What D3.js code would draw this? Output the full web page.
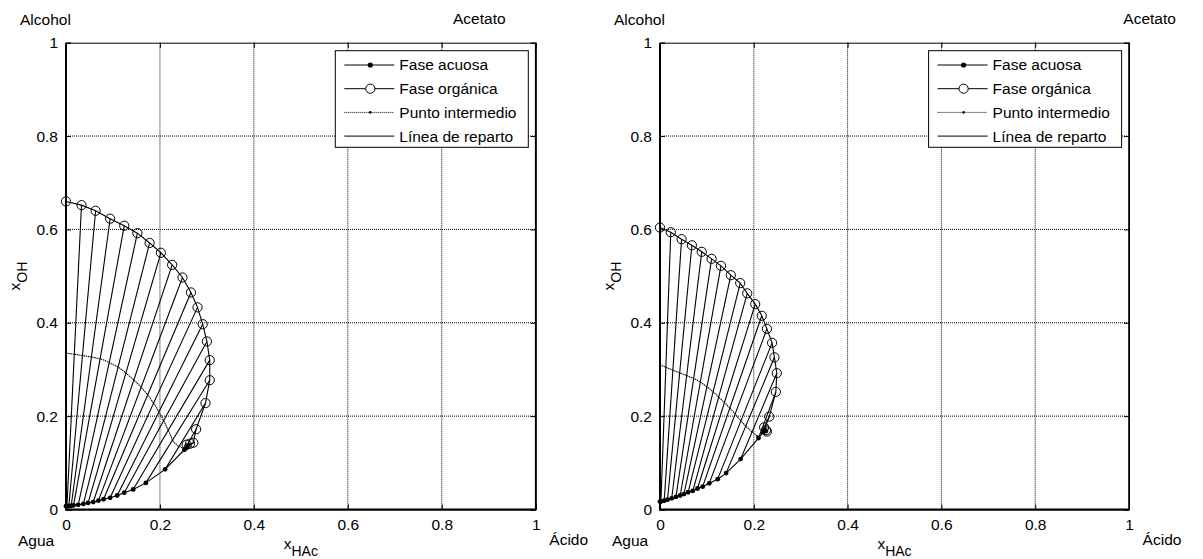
<!DOCTYPE html>
<html>
<head>
<meta charset="utf-8">
<script src="https://cdnjs.cloudflare.com/ajax/libs/d3/7.8.5/d3.min.js"></script>
<style>
  body { margin: 0; background: #fff; }
  svg text { font-family: "Liberation Sans", Arial, sans-serif; font-size: 15.5px; fill: #000; }
  .grid { stroke: #000; stroke-width: 1; stroke-dasharray: 1,1; }
</style>
</head>
<body>
<div id="chart"></div>
<script>
"use strict";
//values, [xHAc, xOH]
var aquosaA = [
  [0.000, 0.007], [0.002, 0.007], [0.006, 0.0075], [0.011, 0.008], [0.016, 0.009],
  [0.026, 0.010], [0.037, 0.012], [0.047, 0.014], [0.058, 0.016], [0.069, 0.019],
  [0.080, 0.022], [0.094, 0.025], [0.109, 0.030], [0.124, 0.036], [0.143, 0.043],
  [0.170, 0.057], [0.211, 0.086], [0.252, 0.128], [0.255, 0.131], [0.258, 0.134],
  [0.257, 0.137]
];
var organicaA = [
  [0.000, 0.660], [0.033, 0.652], [0.063, 0.640], [0.094, 0.623], [0.124, 0.608],
  [0.152, 0.592], [0.178, 0.571], [0.202, 0.550], [0.226, 0.524], [0.248, 0.497],
  [0.266, 0.465], [0.280, 0.433], [0.291, 0.397], [0.300, 0.360], [0.306, 0.320],
  [0.306, 0.277], [0.297, 0.228], [0.277, 0.172], [0.271, 0.143], [0.264, 0.141],
  [0.257, 0.139]
];
var intermedioA = [
  [0.000, 0.335], [0.058, 0.326], [0.101, 0.310], [0.136, 0.285], [0.165, 0.256],
  [0.189, 0.224], [0.207, 0.192], [0.221, 0.163], [0.232, 0.142], [0.246, 0.133],
  [0.255, 0.131]
];

var aquosaB = [
  [0.000, 0.017], [0.002, 0.017], [0.009, 0.019], [0.016, 0.021], [0.025, 0.024],
  [0.034, 0.027], [0.043, 0.030], [0.051, 0.033], [0.060, 0.037], [0.070, 0.040],
  [0.080, 0.045], [0.091, 0.049], [0.105, 0.056], [0.123, 0.065], [0.141, 0.078],
  [0.172, 0.108], [0.210, 0.153], [0.220, 0.166], [0.222, 0.170], [0.224, 0.170],
  [0.226, 0.168]
];
var organicaB = [
  [0.000, 0.604], [0.023, 0.594], [0.046, 0.579], [0.068, 0.566], [0.089, 0.552],
  [0.110, 0.537], [0.130, 0.522], [0.151, 0.502], [0.171, 0.485], [0.186, 0.463],
  [0.203, 0.440], [0.217, 0.415], [0.228, 0.387], [0.239, 0.357], [0.244, 0.326],
  [0.249, 0.292], [0.247, 0.252], [0.233, 0.199], [0.222, 0.176], [0.226, 0.170],
  [0.228, 0.167]
];
var intermedioB = [
  [0.000, 0.310], [0.036, 0.295], [0.071, 0.281], [0.100, 0.263], [0.128, 0.238],
  [0.153, 0.213], [0.174, 0.188], [0.192, 0.170], [0.206, 0.156], [0.215, 0.160],
  [0.222, 0.168]
];

var tickValues = [0, 0.2, 0.4, 0.6, 0.8, 1];
var legendLabels = ["Fase acuosa", "Fase orgánica", "Punto intermedio", "Línea de reparto"];
var cornerLabels = ["Alcohol", "Acetato", "Agua", "Ácido"];

var w = 1203,
  h = 559,
  yTop = 42.7,
  yBot = 509.5;

var svg = d3
  .select("#chart")
  .append("svg")
  .attr("width", w)
  .attr("height", h);

svg.append("rect").attr("width", w).attr("height", h).attr("fill", "#fff");

var panels = [
  { x0: 66, x1: 535.7, aq: aquosaA, org: organicaA, mid: intermedioA, acetatoX: 0.824 },
  { x0: 660, x1: 1129, aq: aquosaB, org: organicaB, mid: intermedioB, acetatoX: 0.988 }
];

panels.forEach(drawPanel);

function drawPanel(p) {
  var x = d3.scaleLinear().domain([0, 1]).range([p.x0, p.x1]);
  var y = d3.scaleLinear().domain([0, 1]).range([yBot, yTop]);
  var g = svg.append("g");

  //dotted grid
  g.append("g")
    .selectAll("line")
    .data(tickValues.slice(1, -1))
    .enter()
    .append("line")
    .attr("class", "grid")
    .attr("x1", function(d) { return x(d); })
    .attr("x2", function(d) { return x(d); })
    .attr("y1", yTop)
    .attr("y2", yBot);
  g.append("g")
    .selectAll("line")
    .data(tickValues.slice(1, -1))
    .enter()
    .append("line")
    .attr("class", "grid")
    .attr("y1", function(d) { return y(d); })
    .attr("y2", function(d) { return y(d); })
    .attr("x1", p.x0)
    .attr("x2", p.x1);

  var line = d3
    .line()
    .x(function(d) { return x(d[0]); })
    .y(function(d) { return y(d[1]); });

  //tie lines
  g.append("g")
    .selectAll("line")
    .data(p.aq)
    .enter()
    .append("line")
    .attr("x1", function(d) { return x(d[0]); })
    .attr("y1", function(d) { return y(d[1]); })
    .attr("x2", function(d, i) { return x(p.org[i][0]); })
    .attr("y2", function(d, i) { return y(p.org[i][1]); })
    .attr("stroke", "#000")
    .attr("stroke-width", 1.1);

  g.append("path")
    .attr("d", line(p.aq))
    .attr("fill", "none")
    .attr("stroke", "#000")
    .attr("stroke-width", 1.1);
  g.append("path")
    .attr("d", line(p.org))
    .attr("fill", "none")
    .attr("stroke", "#000")
    .attr("stroke-width", 1.1);
  g.append("path")
    .attr("d", line.curve(d3.curveMonotoneY)(p.mid))
    .attr("fill", "none")
    .attr("stroke", "#000")
    .attr("stroke-width", 1.1)
    .attr("stroke-dasharray", "1.5,0.7");
  line.curve(d3.curveLinear);

  g.append("g")
    .selectAll("circle")
    .data(p.org)
    .enter()
    .append("circle")
    .attr("cx", function(d) { return x(d[0]); })
    .attr("cy", function(d) { return y(d[1]); })
    .attr("r", 4.6)
    .attr("fill", "none")
    .attr("stroke", "#000")
    .attr("stroke-width", 1);
  g.append("g")
    .selectAll("circle")
    .data(p.aq)
    .enter()
    .append("circle")
    .attr("cx", function(d) { return x(d[0]); })
    .attr("cy", function(d) { return y(d[1]); })
    .attr("r", 2.4)
    .attr("fill", "#000");

  //axes, ticks on all four sides pointing in
  var ax = g.append("g");
  ax.append("g")
    .attr("transform", "translate(0," + yBot + ")")
    .call(d3.axisBottom(x).tickValues(tickValues).tickSize(-5).tickPadding(9).tickFormat(d3.format("~g")));
  ax.append("g")
    .attr("transform", "translate(0," + yTop + ")")
    .call(d3.axisTop(x).tickValues(tickValues).tickSize(-5).tickFormat(""));
  ax.append("g")
    .attr("transform", "translate(" + p.x0 + ",0)")
    .call(d3.axisLeft(y).tickValues(tickValues).tickSize(-5).tickPadding(8).tickFormat(d3.format("~g")));
  ax.append("g")
    .attr("transform", "translate(" + p.x1 + ",0)")
    .call(d3.axisRight(y).tickValues(tickValues).tickSize(-5).tickFormat(""));
  ax.selectAll(".domain").attr("stroke", "#000").attr("stroke-width", 1);
  ax.selectAll(".tick line").attr("stroke", "#000");
  ax.selectAll(".tick text")
    .style("font-family", "'Liberation Sans', Arial, sans-serif")
    .style("font-size", "15.5px");
  //heavier left and bottom edges
  ax.append("line")
    .attr("x1", p.x0).attr("x2", p.x0).attr("y1", yTop).attr("y2", yBot + 1)
    .attr("stroke", "#000").attr("stroke-width", 2);
  ax.append("line")
    .attr("x1", p.x0 - 1).attr("x2", p.x1).attr("y1", yBot).attr("y2", yBot)
    .attr("stroke", "#000").attr("stroke-width", 2);
  ax.append("line")
    .attr("x1", p.x1).attr("x2", p.x1).attr("y1", yTop).attr("y2", yBot)
    .attr("stroke", "#000").attr("stroke-width", 1.6);

  //axis labels
  var xl = g.append("text")
    .attr("x", (p.x0 + p.x1) / 2)
    .attr("y", 549)
    .attr("text-anchor", "middle");
  xl.append("tspan").text("x");
  xl.append("tspan").attr("dy", 7).style("font-size", "14px").text("HAc");

  var yl = g.append("text")
    .attr("transform", "translate(" + (p.x0 - 46) + "," + (yTop + yBot) / 2 + ") rotate(-90)")
    .attr("text-anchor", "middle");
  yl.append("tspan").text("x");
  yl.append("tspan").attr("dy", 7).style("font-size", "14px").text("OH");

  //corner labels
  g.append("text").attr("x", p.x0 - 46).attr("y", 25).text(cornerLabels[0]);
  g.append("text").attr("x", x(p.acetatoX)).attr("y", 23.5).text(cornerLabels[1]);
  g.append("text").attr("x", p.x0 - 48).attr("y", 546).text(cornerLabels[2]);
  g.append("text").attr("x", p.x1 + 13.6).attr("y", 544.5).text(cornerLabels[3]);

  //legend
  var lw = 193,
    lh = 96.6,
    lx = p.x1 - 7.4 - lw,
    ly = 50.7;
  var lg = g.append("g").attr("transform", "translate(" + lx + "," + ly + ")");
  lg.append("rect")
    .attr("width", lw)
    .attr("height", lh)
    .attr("fill", "#fff")
    .attr("stroke", "#000")
    .attr("stroke-width", 1);
  var rows = lg
    .selectAll(".row")
    .data(legendLabels)
    .enter()
    .append("g")
    .attr("class", "row")
    .attr("transform", function(d, i) { return "translate(0," + (14.3 + i * 23.7) + ")"; });
  rows.append("line")
    .attr("x1", 9)
    .attr("x2", 59)
    .attr("stroke", "#000")
    .attr("stroke-width", 1)
    .attr("stroke-dasharray", function(d, i) { return i == 2 ? "1,1" : null; });
  rows.append("text")
    .attr("x", 64)
    .attr("dy", "0.35em")
    .text(function(d) { return d; });
  rows.filter(function(d, i) { return i == 0; })
    .append("circle").attr("cx", 35).attr("r", 2.6).attr("fill", "#000");
  rows.filter(function(d, i) { return i == 1; })
    .append("circle").attr("cx", 35).attr("r", 4.6).attr("fill", "#fff").attr("stroke", "#000");
  rows.filter(function(d, i) { return i == 2; })
    .append("circle").attr("cx", 35).attr("r", 1.3).attr("fill", "#000");
}
</script>
</body>
</html>
